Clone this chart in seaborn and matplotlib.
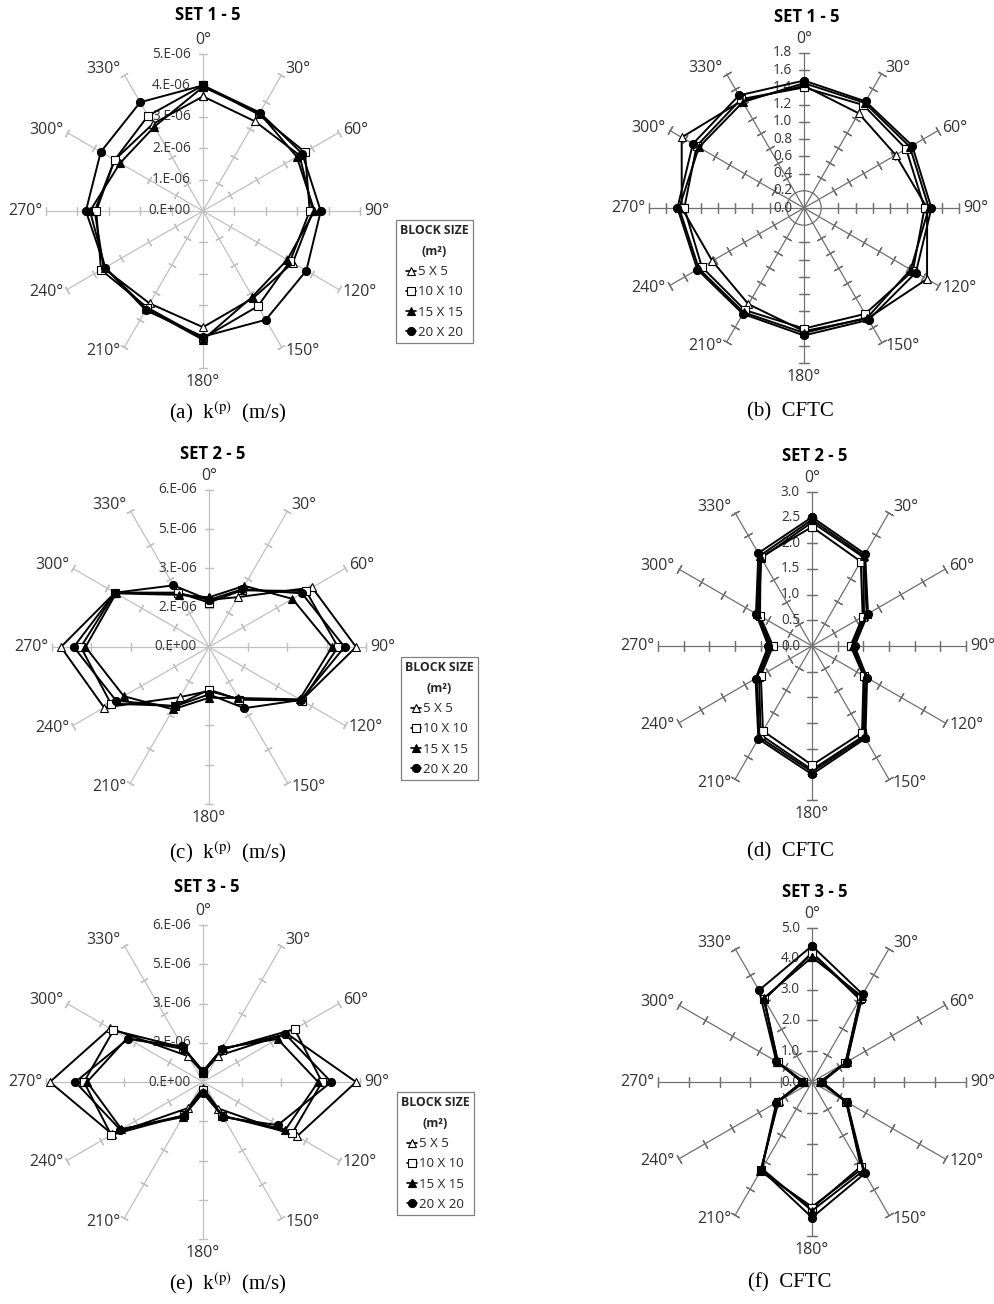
import numpy as np
import pandas as pd
import matplotlib
matplotlib.use("Agg")
import matplotlib.pyplot as plt
from matplotlib.lines import Line2D
import seaborn as sns

sns.set_theme(style="white")
plt.rcParams["font.family"] = ["Open Sans", "DejaVu Sans"]
plt.rcParams["mathtext.fontset"] = "stix"

# ---------------------------------------------------------------- data
ANGLES = [0, 30, 60, 90, 120, 150, 180, 210, 240, 270, 300, 330]
BLOCKS = ["5 X 5", "10 X 10", "15 X 15", "20 X 20"]

# SET 1 - 5 : k(p) in m/s
set1_k_5 = [3.65e-6, 3.30e-6, 3.55e-6, 3.50e-6, 3.30e-6, 3.20e-6, 3.70e-6, 3.40e-6, 3.65e-6, 3.45e-6, 3.25e-6, 3.20e-6]
set1_k_10 = [4.00e-6, 3.55e-6, 3.75e-6, 3.40e-6, 3.20e-6, 3.50e-6, 4.05e-6, 3.55e-6, 3.75e-6, 3.40e-6, 3.25e-6, 3.50e-6]
set1_k_15 = [3.95e-6, 3.60e-6, 3.45e-6, 3.55e-6, 3.10e-6, 3.15e-6, 4.10e-6, 3.60e-6, 3.60e-6, 3.60e-6, 3.05e-6, 3.10e-6]
set1_k_20 = [4.00e-6, 3.62e-6, 3.65e-6, 3.75e-6, 3.80e-6, 4.00e-6, 4.00e-6, 3.65e-6, 3.60e-6, 3.73e-6, 3.76e-6, 4.00e-6]

# SET 1 - 5 : CFTC
set1_c_5 = [1.42, 1.27, 1.23, 1.43, 1.65, 1.48, 1.43, 1.29, 1.23, 1.42, 1.64, 1.44]
set1_c_10 = [1.40, 1.38, 1.37, 1.40, 1.46, 1.42, 1.40, 1.37, 1.37, 1.39, 1.44, 1.46]
set1_c_15 = [1.45, 1.41, 1.42, 1.45, 1.43, 1.47, 1.45, 1.40, 1.41, 1.45, 1.41, 1.42]
set1_c_20 = [1.48, 1.43, 1.45, 1.48, 1.50, 1.50, 1.48, 1.42, 1.43, 1.47, 1.49, 1.51]

# SET 2 - 5 : k(p) in m/s
set2_k_5 = [1.80e-6, 2.20e-6, 4.55e-6, 5.62e-6, 4.08e-6, 2.30e-6, 1.68e-6, 2.21e-6, 4.63e-6, 5.66e-6, 4.15e-6, 2.38e-6]
set2_k_10 = [1.70e-6, 2.50e-6, 4.28e-6, 4.93e-6, 4.10e-6, 2.32e-6, 1.63e-6, 2.60e-6, 4.33e-6, 4.90e-6, 4.15e-6, 2.40e-6]
set2_k_15 = [1.90e-6, 2.70e-6, 3.68e-6, 4.70e-6, 4.00e-6, 2.25e-6, 1.94e-6, 2.75e-6, 3.76e-6, 4.72e-6, 4.10e-6, 2.30e-6]
set2_k_20 = [1.80e-6, 2.55e-6, 4.10e-6, 5.18e-6, 4.05e-6, 2.70e-6, 1.81e-6, 2.62e-6, 4.10e-6, 5.17e-6, 4.15e-6, 2.72e-6]

# SET 2 - 5 : CFTC
set2_c_5 = [2.41, 2.00, 1.17, 0.78, 1.18, 2.02, 2.41, 2.00, 1.19, 0.80, 1.20, 1.98]
set2_c_10 = [2.32, 1.90, 1.14, 0.75, 1.16, 1.95, 2.32, 1.91, 1.15, 0.76, 1.17, 2.00]
set2_c_15 = [2.46, 2.03, 1.23, 0.80, 1.22, 2.05, 2.45, 2.05, 1.24, 0.83, 1.23, 2.03]
set2_c_20 = [2.51, 2.07, 1.26, 0.83, 1.24, 2.08, 2.50, 2.09, 1.27, 0.85, 1.26, 2.09]

# SET 3 - 5 : k(p) in m/s
set3_k_5 = [0.35e-6, 1.15e-6, 3.70e-6, 5.85e-6, 4.15e-6, 1.17e-6, 0.22e-6, 1.15e-6, 4.00e-6, 5.85e-6, 4.10e-6, 1.14e-6]
set3_k_10 = [0.38e-6, 1.42e-6, 4.04e-6, 4.55e-6, 3.93e-6, 1.48e-6, 0.30e-6, 1.47e-6, 4.05e-6, 4.55e-6, 3.95e-6, 1.52e-6]
set3_k_15 = [0.40e-6, 1.50e-6, 3.29e-6, 4.40e-6, 3.64e-6, 1.52e-6, 0.40e-6, 1.55e-6, 3.60e-6, 4.43e-6, 3.35e-6, 1.45e-6]
set3_k_20 = [0.42e-6, 1.45e-6, 3.64e-6, 4.90e-6, 3.30e-6, 1.55e-6, 0.42e-6, 1.48e-6, 3.65e-6, 4.88e-6, 3.30e-6, 1.57e-6]

# SET 3 - 5 : CFTC
set3_c_5 = [4.18, 3.10, 1.27, 0.25, 1.27, 3.25, 4.05, 3.35, 1.25, 0.25, 1.27, 3.10]
set3_c_10 = [4.20, 3.15, 1.25, 0.29, 1.29, 3.17, 4.10, 3.30, 1.29, 0.30, 1.28, 3.10]
set3_c_15 = [4.05, 3.22, 1.30, 0.30, 1.30, 3.33, 4.18, 3.25, 1.30, 0.30, 1.30, 3.14]
set3_c_20 = [4.42, 3.29, 1.31, 0.33, 1.31, 3.43, 4.40, 3.29, 1.34, 0.33, 1.34, 3.44]

# radial axes
k1_ticks = [0, 1e-6, 2e-6, 3e-6, 4e-6, 5e-6]
k1_labels = ["0.E+00", "1.E-06", "2.E-06", "3.E-06", "4.E-06", "5.E-06"]
k23_ticks = [0, 1.5e-6, 3e-6, 4.5e-6, 6e-6]
k23_labels = ["0.E+00", "2.E-06", "3.E-06", "5.E-06", "6.E-06"]
c1_ticks = [0.0, 0.2, 0.4, 0.6, 0.8, 1.0, 1.2, 1.4, 1.6, 1.8]
c1_labels = ["0.0", "0.2", "0.4", "0.6", "0.8", "1.0", "1.2", "1.4", "1.6", "1.8"]
c2_ticks = [0.0, 0.5, 1.0, 1.5, 2.0, 2.5, 3.0]
c2_labels = ["0.0", "0.5", "1.0", "1.5", "2.0", "2.5", "3.0"]
c3_ticks = [0.0, 1.0, 2.0, 3.0, 4.0, 5.0]
c3_labels = ["0.0", "1.0", "2.0", "3.0", "4.0", "5.0"]

# ---------------------------------------------------------------- styling
MARKERS = ["^", "s", "^", "o"]
FACES = ["white", "white", "black", "black"]
TEXT_COL = "#333333"
W, H = 995, 1304

fig = plt.figure(figsize=(W / 100, H / 100), dpi=100)
fig.patch.set_facecolor("white")


def add_polar(cx, cy, R):
    return fig.add_axes([(cx - R) / W, 1 - (cy + R) / H, 2 * R / W, 2 * R / H],
                        projection="polar")


def label_style(a):
    """Alignment and pixel offset for the direction label at angle a."""
    if a == 0:
        return "center", "bottom", (0, 6)
    if a == 180:
        return "center", "top", (0, -6)
    dy = {30: 6, 60: 3, 90: 0, 120: -2, 150: -4}[a if a < 180 else 360 - a]
    if a < 180:
        return "left", "center", (4, dy)
    return "right", "center", (-4, dy)


def draw_panel(ax, series, ticks, tick_labels, spoke_col, tick_ms, inner_ring=None):
    rmax = ticks[-1]
    ax.set_theta_zero_location("N")
    ax.set_theta_direction(-1)
    ax.set_xticks([])
    ax.set_yticks([])
    ax.grid(False)
    ax.spines["polar"].set_visible(False)
    ax.patch.set_alpha(0)

    # spokes with crossing tick marks
    tick_r = [t for t in ticks[1:] if inner_ring is None or t > inner_ring]
    for a in ANGLES:
        th = np.deg2rad(a)
        ax.plot([th, th], [0, rmax], color=spoke_col, lw=0.9, zorder=1, clip_on=False)
        ax.plot(np.full(len(tick_r), th), tick_r, ls="none",
                marker=(2, 2, 90 - a), ms=tick_ms, mew=0.9, color=spoke_col,
                zorder=1, clip_on=False)
    if inner_ring is not None:
        tt = np.linspace(0, 2 * np.pi, 200)
        ax.plot(tt, np.full_like(tt, inner_ring), color=spoke_col, lw=0.9, zorder=1,
                clip_on=False)

    # radial labels along the 0 deg spoke
    for t, lab in zip(ticks, tick_labels):
        ax.annotate(lab, xy=(0, t), xytext=(-12, 0), textcoords="offset pixels",
                    ha="right", va="center", fontsize=9.8, color=TEXT_COL,
                    annotation_clip=False, zorder=2)

    # direction labels
    for a in ANGLES:
        ha, va, off = label_style(a)
        ax.annotate(f"{a}°", xy=(np.deg2rad(a), rmax), xytext=off,
                    textcoords="offset pixels", ha=ha, va=va, fontsize=11.5,
                    color=TEXT_COL, annotation_clip=False)

    # data series (closed polygons)
    theta = np.deg2rad(ANGLES + [360])
    for vals, mk, fc in zip(series, MARKERS, FACES):
        df = pd.DataFrame({"theta": theta, "r": list(vals) + [vals[0]]})
        sns.lineplot(data=df, x="theta", y="r", sort=False, estimator=None, ax=ax,
                     color="black", lw=1.4, marker=mk, markersize=5.8,
                     markerfacecolor=fc, markeredgecolor="black",
                     markeredgewidth=0.8, zorder=3, clip_on=False)
    ax.set_xlabel("")
    ax.set_ylabel("")
    ax.set_ylim(0, rmax)
    ax.set_xticks([])
    ax.set_yticks([])
    ax.grid(False)


K_SPOKE = "#c0c0c0"
C_SPOKE = "#707070"

panels = [
    # (cx, cy, R, series, ticks, labels, spoke, tick size, ring)
    (203, 211, 157, [set1_k_5, set1_k_10, set1_k_15, set1_k_20], k1_ticks, k1_labels, K_SPOKE, 6, None),
    (804, 208, 155, [set1_c_5, set1_c_10, set1_c_15, set1_c_20], c1_ticks, c1_labels, C_SPOKE, 7, 0.2),
    (209, 647, 157, [set2_k_5, set2_k_10, set2_k_15, set2_k_20], k23_ticks, k23_labels, K_SPOKE, 6, None),
    (812, 646, 154, [set2_c_5, set2_c_10, set2_c_15, set2_c_20], c2_ticks, c2_labels, C_SPOKE, 7, None),
    (203, 1082, 157, [set3_k_5, set3_k_10, set3_k_15, set3_k_20], k23_ticks, k23_labels, K_SPOKE, 6, None),
    (812, 1082, 154, [set3_c_5, set3_c_10, set3_c_15, set3_c_20], c3_ticks, c3_labels, C_SPOKE, 7, None),
]
for cx, cy, R, series, ticks, labs, col, tms, ring in panels:
    ax = add_polar(cx, cy, R)
    draw_panel(ax, series, ticks, labs, col, tms, ring)

# titles
titles = [("SET 1 - 5", 208, 15), ("SET 1 - 5", 807, 17),
          ("SET 2 - 5", 213, 454), ("SET 2 - 5", 815, 456),
          ("SET 3 - 5", 207, 887), ("SET 3 - 5", 815, 892)]
for txt, x, y in titles:
    fig.text(x / W, 1 - y / H, txt, ha="center", va="center", fontsize=12,
             fontweight="bold", color="black")

# captions
captions = [("(a)  k$^{\\rm (p)}$  (m/s)", 228, 412), ("(b)  CFTC", 790, 412),
            ("(c)  k$^{\\rm (p)}$  (m/s)", 228, 852), ("(d)  CFTC", 790, 852),
            ("(e)  k$^{\\rm (p)}$  (m/s)", 228, 1283), ("(f)  CFTC", 790, 1283)]
for txt, x, y in captions:
    fig.text(x / W, 1 - y / H, txt, ha="center", va="center", fontsize=15,
             family="Liberation Serif", color="black")

# legends beside the k(p) panels
handles = [Line2D([0], [0], color="black", lw=1.2, marker=mk, ms=5.8,
                  markerfacecolor=fc, markeredgecolor="black", markeredgewidth=0.8)
           for mk, fc in zip(MARKERS, FACES)]
for lx, ly in [(396, 220), (401, 657), (397, 1092)]:
    leg = fig.legend(handles, BLOCKS, loc="upper left",
                     bbox_to_anchor=(lx / W, 1 - ly / H), frameon=True,
                     fancybox=False, edgecolor="#808080", framealpha=1,
                     title="BLOCK SIZE\n(m²)", fontsize=9.5,
                     title_fontproperties={"weight": "bold", "size": 8.8},
                     handlelength=0.8, handletextpad=0.1, labelspacing=0.55,
                     borderpad=0.3, borderaxespad=0)
    leg.get_title().set_linespacing(1.8)
    leg.get_title().set_multialignment("center")
    leg.get_frame().set_linewidth(0.9)

fig.savefig("out.png", dpi=100, facecolor="white")
